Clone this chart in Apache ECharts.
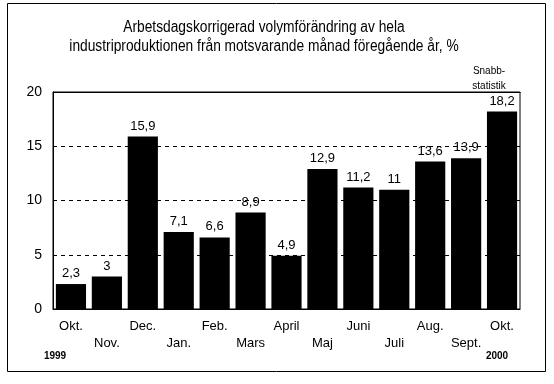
<!DOCTYPE html>
<html><head><meta charset="utf-8">
<script src="https://cdn.jsdelivr.net/npm/echarts@6/dist/echarts.min.js"></script>
<style>html,body{margin:0;padding:0;background:#fff}#c{width:554px;height:384px}</style>
</head><body><div id="c"></div>
<script>
const categories = ['Okt.','Nov.','Dec.','Jan.','Feb.','Mars','April','Maj','Juni','Juli','Aug.','Sept.','Okt.'];
const values = [2.3, 3, 15.9, 7.1, 6.6, 8.9, 4.9, 12.9, 11.2, 11, 13.6, 13.9, 18.2];
const yTicks = [0, 5, 10, 15, 20];
const titleText = 'Arbetsdagskorrigerad volymförändring av hela\nindustriproduktionen från motsvarande månad föregående år, %';
const noteText = 'Snabb-\nstatistik';
const yearStart = '1999', yearEnd = '2000';

const font = 'Liberation Sans, Arial, sans-serif';
const chart = echarts.init(document.getElementById('c'));
chart.setOption({
  animation: false,
  backgroundColor: '#fff',
  grid: { left: 53, top: 92, width: 467, height: 217, show: true, borderColor: '#000', borderWidth: 1, backgroundColor: 'transparent' },
  xAxis: {
    type: 'category', data: categories,
    axisLine: { lineStyle: { color: '#000' } },
    axisTick: { show: false },
    axisLabel: {
      interval: 0, color: '#000', fontFamily: font, fontSize: 13, margin: 9, lineHeight: 17,
      formatter: (v, i) => (i % 2 ? '\n' + v : v + '\n')
    }
  },
  yAxis: {
    type: 'value', min: yTicks[0], max: yTicks[yTicks.length - 1], interval: 5,
    axisLine: { show: true, lineStyle: { color: '#000' } },
    axisTick: { show: false },
    axisLabel: { color: '#000', fontFamily: font, fontSize: 14, margin: 11 },
    splitLine: { show: true, showMinLine: false, showMaxLine: false, lineStyle: { color: '#000', type: [4, 4], width: 1 } }
  },
  series: [{
    type: 'bar', data: values, barCategoryGap: '16%',
    itemStyle: { color: '#000' },
    label: {
      show: true, position: 'top', distance: 4, color: '#000', fontFamily: font, fontSize: 13,
      formatter: p => String(p.value).replace('.', ',')
    }
  }],
  graphic: [
    { type: 'rect', shape: { x: 7.5, y: 3.5, width: 538, height: 368 }, style: { fill: 'none', stroke: '#000', lineWidth: 1 }, z: -1 },
    { type: 'text', x: 264, y: 18, scaleX: 0.86, style: { text: titleText, fontFamily: font, fontSize: 16, lineHeight: 19, fill: '#000', align: 'center', verticalAlign: 'top' } },
    { type: 'line', shape: { x1: 53.5, y1: 92.5, x2: 520.5, y2: 92.5 }, style: { stroke: '#000', lineWidth: 1 }, z: 10 },
    { type: 'text', x: 489, y: 64, style: { text: noteText, fontFamily: font, fontSize: 10, lineHeight: 15, fill: '#000', align: 'center', verticalAlign: 'top' } },
    { type: 'text', x: 55, y: 351, style: { text: yearStart, fontFamily: font, fontSize: 10, fontWeight: 'bold', fill: '#000', align: 'center', verticalAlign: 'top' } },
    { type: 'text', x: 497, y: 351, style: { text: yearEnd, fontFamily: font, fontSize: 10, fontWeight: 'bold', fill: '#000', align: 'center', verticalAlign: 'top' } }
  ]
});
</script></body></html>
